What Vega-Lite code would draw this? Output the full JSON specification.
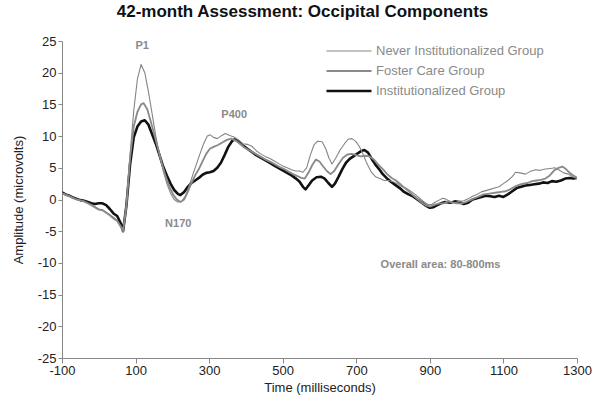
{
  "$schema": "https://vega.github.io/schema/vega-lite/v6.json",
  "width": 515,
  "height": 317,
  "autosize": {"type": "none"},
  "padding": {"left": 62, "top": 41, "right": 23, "bottom": 53},
  "background": "white",
  "title": {"text": "42-month Assessment: Occipital Components", "font": "Liberation Sans", "fontSize": 17, "fontWeight": "bold", "color": "#111", "anchor": "middle", "dx": -17, "offset": 14},
  "config": {"view": {"stroke": null}, "font": "Liberation Sans"},
  "datasets": {
    "curves": [
      {"g":"I","t":-100,"v":1.1},{"g":"I","t":-90,"v":0.8},{"g":"I","t":-80,"v":0.6},{"g":"I","t":-70,"v":0.3},{"g":"I","t":-60,"v":0.1},{"g":"I","t":-50,"v":-0.1},{"g":"I","t":-40,"v":-0.2},{"g":"I","t":-30,"v":-0.4},{"g":"I","t":-20,"v":-0.6},{"g":"I","t":-10,"v":-0.7},{"g":"I","t":0,"v":-0.6},{"g":"I","t":10,"v":-0.6},{"g":"I","t":20,"v":-0.9},{"g":"I","t":30,"v":-1.5},{"g":"I","t":40,"v":-2.2},{"g":"I","t":50,"v":-2.6},{"g":"I","t":60,"v":-3.8},{"g":"I","t":66,"v":-5.0},{"g":"I","t":75,"v":-1.0},{"g":"I","t":85,"v":5.5},{"g":"I","t":95,"v":9.8},{"g":"I","t":105,"v":11.5},{"g":"I","t":115,"v":12.3},{"g":"I","t":125,"v":12.5},{"g":"I","t":135,"v":11.8},{"g":"I","t":145,"v":10.3},{"g":"I","t":155,"v":8.8},{"g":"I","t":165,"v":7.0},{"g":"I","t":175,"v":5.2},{"g":"I","t":185,"v":3.8},{"g":"I","t":195,"v":2.5},{"g":"I","t":205,"v":1.5},{"g":"I","t":215,"v":0.9},{"g":"I","t":222,"v":0.7},{"g":"I","t":232,"v":1.2},{"g":"I","t":242,"v":2.0},{"g":"I","t":252,"v":2.6},{"g":"I","t":262,"v":3.0},{"g":"I","t":272,"v":3.4},{"g":"I","t":282,"v":3.9},{"g":"I","t":292,"v":4.2},{"g":"I","t":302,"v":4.3},{"g":"I","t":312,"v":4.5},{"g":"I","t":322,"v":5.0},{"g":"I","t":332,"v":5.8},{"g":"I","t":342,"v":7.0},{"g":"I","t":352,"v":8.3},{"g":"I","t":362,"v":9.2},{"g":"I","t":370,"v":9.5},{"g":"I","t":380,"v":9.1},{"g":"I","t":392,"v":8.5},{"g":"I","t":404,"v":8.0},{"g":"I","t":416,"v":7.5},{"g":"I","t":428,"v":7.0},{"g":"I","t":440,"v":6.6},{"g":"I","t":452,"v":6.2},{"g":"I","t":464,"v":5.8},{"g":"I","t":476,"v":5.4},{"g":"I","t":488,"v":5.0},{"g":"I","t":500,"v":4.6},{"g":"I","t":512,"v":4.2},{"g":"I","t":524,"v":3.8},{"g":"I","t":536,"v":3.3},{"g":"I","t":546,"v":2.8},{"g":"I","t":555,"v":2.0},{"g":"I","t":562,"v":1.6},{"g":"I","t":570,"v":2.2},{"g":"I","t":580,"v":3.0},{"g":"I","t":592,"v":3.5},{"g":"I","t":604,"v":3.6},{"g":"I","t":614,"v":3.3},{"g":"I","t":624,"v":2.6},{"g":"I","t":634,"v":2.0},{"g":"I","t":642,"v":2.5},{"g":"I","t":652,"v":3.6},{"g":"I","t":662,"v":4.8},{"g":"I","t":672,"v":5.8},{"g":"I","t":682,"v":6.4},{"g":"I","t":692,"v":6.8},{"g":"I","t":702,"v":7.2},{"g":"I","t":712,"v":7.6},{"g":"I","t":722,"v":7.8},{"g":"I","t":732,"v":7.4},{"g":"I","t":742,"v":6.4},{"g":"I","t":752,"v":5.5},{"g":"I","t":762,"v":4.8},{"g":"I","t":772,"v":4.0},{"g":"I","t":782,"v":3.4},{"g":"I","t":794,"v":2.8},{"g":"I","t":806,"v":2.3},{"g":"I","t":818,"v":1.8},{"g":"I","t":830,"v":1.2},{"g":"I","t":842,"v":0.8},{"g":"I","t":854,"v":0.5},{"g":"I","t":866,"v":0.0},{"g":"I","t":878,"v":-0.5},{"g":"I","t":890,"v":-1.0},{"g":"I","t":900,"v":-1.3},{"g":"I","t":910,"v":-1.2},{"g":"I","t":920,"v":-0.9},{"g":"I","t":930,"v":-0.6},{"g":"I","t":942,"v":-0.4},{"g":"I","t":955,"v":-0.5},{"g":"I","t":968,"v":-0.3},{"g":"I","t":980,"v":-0.4},{"g":"I","t":992,"v":-0.7},{"g":"I","t":1004,"v":-0.5},{"g":"I","t":1016,"v":0.0},{"g":"I","t":1028,"v":0.2},{"g":"I","t":1040,"v":0.4},{"g":"I","t":1052,"v":0.6},{"g":"I","t":1064,"v":0.5},{"g":"I","t":1076,"v":0.4},{"g":"I","t":1088,"v":0.6},{"g":"I","t":1100,"v":0.4},{"g":"I","t":1112,"v":0.8},{"g":"I","t":1124,"v":1.3},{"g":"I","t":1136,"v":1.8},{"g":"I","t":1148,"v":2.0},{"g":"I","t":1160,"v":2.2},{"g":"I","t":1172,"v":2.3},{"g":"I","t":1184,"v":2.4},{"g":"I","t":1196,"v":2.5},{"g":"I","t":1208,"v":2.7},{"g":"I","t":1220,"v":2.6},{"g":"I","t":1232,"v":2.9},{"g":"I","t":1244,"v":2.8},{"g":"I","t":1256,"v":3.0},{"g":"I","t":1268,"v":3.3},{"g":"I","t":1280,"v":3.4},{"g":"I","t":1290,"v":3.3},{"g":"I","t":1300,"v":3.4},

      {"g":"N","t":-100,"v":1.0},{"g":"N","t":-80,"v":0.6},{"g":"N","t":-60,"v":0.0},{"g":"N","t":-40,"v":-0.3},{"g":"N","t":-20,"v":-0.8},{"g":"N","t":0,"v":-1.5},{"g":"N","t":10,"v":-1.6},{"g":"N","t":20,"v":-2.0},{"g":"N","t":30,"v":-2.4},{"g":"N","t":40,"v":-2.8},{"g":"N","t":50,"v":-3.3},{"g":"N","t":60,"v":-4.2},{"g":"N","t":66,"v":-4.8},{"g":"N","t":75,"v":-1.0},{"g":"N","t":85,"v":7.0},{"g":"N","t":95,"v":14.0},{"g":"N","t":105,"v":19.0},{"g":"N","t":115,"v":21.3},{"g":"N","t":125,"v":20.0},{"g":"N","t":135,"v":17.0},{"g":"N","t":145,"v":13.5},{"g":"N","t":155,"v":10.0},{"g":"N","t":165,"v":7.0},{"g":"N","t":175,"v":4.5},{"g":"N","t":185,"v":2.5},{"g":"N","t":195,"v":1.0},{"g":"N","t":205,"v":0.0},{"g":"N","t":215,"v":-0.4},{"g":"N","t":225,"v":-0.3},{"g":"N","t":235,"v":0.5},{"g":"N","t":245,"v":2.0},{"g":"N","t":255,"v":3.8},{"g":"N","t":265,"v":5.5},{"g":"N","t":275,"v":7.2},{"g":"N","t":285,"v":8.8},{"g":"N","t":295,"v":10.0},{"g":"N","t":303,"v":10.2},{"g":"N","t":312,"v":9.8},{"g":"N","t":322,"v":9.6},{"g":"N","t":332,"v":10.0},{"g":"N","t":344,"v":10.4},{"g":"N","t":356,"v":10.1},{"g":"N","t":366,"v":9.9},{"g":"N","t":380,"v":9.4},{"g":"N","t":392,"v":8.8},{"g":"N","t":404,"v":8.7},{"g":"N","t":416,"v":8.4},{"g":"N","t":428,"v":7.7},{"g":"N","t":440,"v":7.2},{"g":"N","t":452,"v":6.8},{"g":"N","t":464,"v":6.5},{"g":"N","t":476,"v":6.1},{"g":"N","t":488,"v":5.7},{"g":"N","t":500,"v":5.3},{"g":"N","t":512,"v":5.0},{"g":"N","t":524,"v":4.7},{"g":"N","t":534,"v":4.5},{"g":"N","t":545,"v":4.5},{"g":"N","t":555,"v":4.3},{"g":"N","t":565,"v":5.0},{"g":"N","t":575,"v":7.0},{"g":"N","t":585,"v":8.6},{"g":"N","t":595,"v":9.2},{"g":"N","t":607,"v":9.1},{"g":"N","t":617,"v":8.0},{"g":"N","t":626,"v":6.5},{"g":"N","t":634,"v":5.6},{"g":"N","t":644,"v":6.5},{"g":"N","t":656,"v":7.8},{"g":"N","t":668,"v":8.8},{"g":"N","t":678,"v":9.5},{"g":"N","t":688,"v":9.6},{"g":"N","t":698,"v":9.2},{"g":"N","t":708,"v":8.4},{"g":"N","t":718,"v":7.2},{"g":"N","t":728,"v":5.8},{"g":"N","t":740,"v":4.4},{"g":"N","t":752,"v":3.6},{"g":"N","t":764,"v":3.3},{"g":"N","t":776,"v":3.0},{"g":"N","t":788,"v":3.0},{"g":"N","t":800,"v":2.8},{"g":"N","t":812,"v":2.5},{"g":"N","t":824,"v":2.0},{"g":"N","t":836,"v":1.8},{"g":"N","t":848,"v":1.3},{"g":"N","t":860,"v":0.8},{"g":"N","t":872,"v":0.2},{"g":"N","t":884,"v":-0.4},{"g":"N","t":895,"v":-0.8},{"g":"N","t":905,"v":-0.8},{"g":"N","t":915,"v":-0.4},{"g":"N","t":925,"v":-0.1},{"g":"N","t":935,"v":0.2},{"g":"N","t":942,"v":0.1},{"g":"N","t":955,"v":-0.3},{"g":"N","t":968,"v":-0.5},{"g":"N","t":980,"v":-0.3},{"g":"N","t":992,"v":-0.2},{"g":"N","t":1004,"v":0.1},{"g":"N","t":1016,"v":0.5},{"g":"N","t":1028,"v":0.8},{"g":"N","t":1040,"v":1.2},{"g":"N","t":1052,"v":1.4},{"g":"N","t":1064,"v":1.6},{"g":"N","t":1076,"v":1.8},{"g":"N","t":1088,"v":2.0},{"g":"N","t":1100,"v":2.5},{"g":"N","t":1112,"v":3.0},{"g":"N","t":1124,"v":3.6},{"g":"N","t":1133,"v":4.3},{"g":"N","t":1145,"v":4.2},{"g":"N","t":1160,"v":4.0},{"g":"N","t":1172,"v":4.4},{"g":"N","t":1187,"v":4.7},{"g":"N","t":1200,"v":4.6},{"g":"N","t":1214,"v":4.8},{"g":"N","t":1228,"v":4.9},{"g":"N","t":1240,"v":5.0},{"g":"N","t":1252,"v":4.6},{"g":"N","t":1264,"v":4.2},{"g":"N","t":1276,"v":4.0},{"g":"N","t":1288,"v":3.6},{"g":"N","t":1300,"v":3.3},

      {"g":"F","t":-100,"v":1.0},{"g":"F","t":-80,"v":0.5},{"g":"F","t":-60,"v":0.0},{"g":"F","t":-40,"v":-0.3},{"g":"F","t":-20,"v":-0.9},{"g":"F","t":0,"v":-1.6},{"g":"F","t":10,"v":-1.7},{"g":"F","t":20,"v":-2.1},{"g":"F","t":30,"v":-2.5},{"g":"F","t":40,"v":-3.0},{"g":"F","t":50,"v":-3.4},{"g":"F","t":60,"v":-4.3},{"g":"F","t":66,"v":-5.0},{"g":"F","t":75,"v":-1.0},{"g":"F","t":85,"v":6.5},{"g":"F","t":95,"v":11.5},{"g":"F","t":105,"v":13.8},{"g":"F","t":115,"v":15.0},{"g":"F","t":122,"v":15.2},{"g":"F","t":132,"v":14.2},{"g":"F","t":142,"v":12.2},{"g":"F","t":152,"v":10.0},{"g":"F","t":162,"v":7.8},{"g":"F","t":172,"v":5.6},{"g":"F","t":182,"v":3.6},{"g":"F","t":192,"v":2.0},{"g":"F","t":202,"v":0.8},{"g":"F","t":212,"v":0.0},{"g":"F","t":222,"v":-0.4},{"g":"F","t":232,"v":0.0},{"g":"F","t":242,"v":1.2},{"g":"F","t":252,"v":2.6},{"g":"F","t":262,"v":3.8},{"g":"F","t":272,"v":4.8},{"g":"F","t":282,"v":6.0},{"g":"F","t":292,"v":7.2},{"g":"F","t":302,"v":8.0},{"g":"F","t":312,"v":8.3},{"g":"F","t":324,"v":8.6},{"g":"F","t":336,"v":9.0},{"g":"F","t":348,"v":9.4},{"g":"F","t":360,"v":9.6},{"g":"F","t":372,"v":9.3},{"g":"F","t":384,"v":8.8},{"g":"F","t":396,"v":8.2},{"g":"F","t":408,"v":7.8},{"g":"F","t":420,"v":7.4},{"g":"F","t":432,"v":7.0},{"g":"F","t":444,"v":6.6},{"g":"F","t":456,"v":6.2},{"g":"F","t":468,"v":5.9},{"g":"F","t":480,"v":5.5},{"g":"F","t":492,"v":5.1},{"g":"F","t":504,"v":4.8},{"g":"F","t":516,"v":4.4},{"g":"F","t":528,"v":4.0},{"g":"F","t":540,"v":3.7},{"g":"F","t":550,"v":3.4},{"g":"F","t":560,"v":3.3},{"g":"F","t":570,"v":4.2},{"g":"F","t":580,"v":5.4},{"g":"F","t":590,"v":6.3},{"g":"F","t":600,"v":6.0},{"g":"F","t":610,"v":5.2},{"g":"F","t":620,"v":4.5},{"g":"F","t":630,"v":4.0},{"g":"F","t":640,"v":4.5},{"g":"F","t":652,"v":5.6},{"g":"F","t":664,"v":6.6},{"g":"F","t":676,"v":7.1},{"g":"F","t":688,"v":7.2},{"g":"F","t":700,"v":7.0},{"g":"F","t":712,"v":6.8},{"g":"F","t":724,"v":6.9},{"g":"F","t":736,"v":6.8},{"g":"F","t":748,"v":6.3},{"g":"F","t":760,"v":5.5},{"g":"F","t":772,"v":4.8},{"g":"F","t":784,"v":4.0},{"g":"F","t":796,"v":3.4},{"g":"F","t":808,"v":3.0},{"g":"F","t":820,"v":2.4},{"g":"F","t":832,"v":1.8},{"g":"F","t":844,"v":1.2},{"g":"F","t":856,"v":0.6},{"g":"F","t":868,"v":0.0},{"g":"F","t":880,"v":-0.6},{"g":"F","t":892,"v":-1.0},{"g":"F","t":902,"v":-1.1},{"g":"F","t":914,"v":-0.8},{"g":"F","t":926,"v":-0.6},{"g":"F","t":938,"v":-0.6},{"g":"F","t":950,"v":-0.3},{"g":"F","t":962,"v":-0.5},{"g":"F","t":974,"v":-0.6},{"g":"F","t":986,"v":-0.6},{"g":"F","t":998,"v":-0.4},{"g":"F","t":1010,"v":-0.1},{"g":"F","t":1022,"v":0.2},{"g":"F","t":1034,"v":0.5},{"g":"F","t":1046,"v":0.8},{"g":"F","t":1058,"v":0.9},{"g":"F","t":1070,"v":1.0},{"g":"F","t":1082,"v":1.1},{"g":"F","t":1094,"v":1.2},{"g":"F","t":1106,"v":1.3},{"g":"F","t":1118,"v":1.6},{"g":"F","t":1130,"v":2.0},{"g":"F","t":1142,"v":2.3},{"g":"F","t":1154,"v":2.5},{"g":"F","t":1166,"v":2.6},{"g":"F","t":1178,"v":2.9},{"g":"F","t":1190,"v":3.0},{"g":"F","t":1202,"v":3.1},{"g":"F","t":1214,"v":3.3},{"g":"F","t":1226,"v":3.8},{"g":"F","t":1238,"v":4.6},{"g":"F","t":1250,"v":5.0},{"g":"F","t":1260,"v":5.2},{"g":"F","t":1270,"v":4.8},{"g":"F","t":1280,"v":4.2},{"g":"F","t":1290,"v":3.8},{"g":"F","t":1300,"v":3.4}
    ],
    "notes": [
      {"label":"P1","t":118,"v":24.2},
      {"label":"P400","t":368,"v":13.4},
      {"label":"N170","t":216,"v":-3.9},
      {"label":"Overall area: 80-800ms","t":929,"v":-10.4}
    ]
  },
  "encoding": {
    "x": {"field": "t", "type": "quantitative", "scale": {"domain": [-100, 1300], "nice": false, "zero": false},
      "axis": {"values": [-100, 100, 300, 500, 700, 900, 1100, 1300], "labelExpr": "'' + datum.value", "labelOverlap": false, "title": "Time (milliseconds)", "grid": false, "domainColor": "#888", "tickColor": "#888", "tickSize": 5, "labelFont": "Liberation Sans", "labelFontSize": 13, "labelColor": "#222", "labelPadding": 1, "titleFont": "Liberation Sans", "titleFontSize": 13, "titleFontWeight": "normal", "titleColor": "#222", "titlePadding": 4, "labelFlush": false}},
    "y": {"field": "v", "type": "quantitative", "scale": {"domain": [-25, 25], "nice": false, "zero": false},
      "axis": {"values": [-25, -20, -15, -10, -5, 0, 5, 10, 15, 20, 25], "labelExpr": "'' + datum.value", "labelOverlap": false, "title": "Amplitude (microvolts)", "grid": false, "domainColor": "#888", "tickColor": "#888", "tickSize": 4, "labelFont": "Liberation Sans", "labelFontSize": 13, "labelColor": "#222", "labelPadding": 2, "titleFont": "Liberation Sans", "titleFontSize": 13, "titleFontWeight": "normal", "titleColor": "#222", "titlePadding": 12, "labelFlush": false}}
  },
  "layer": [
    {
      "data": {"name": "curves"},
      "mark": {"type": "line", "clip": true, "strokeJoin": "round"},
      "encoding": {
        "detail": {"field": "g"},
        "color": {"field": "g", "type": "nominal", "scale": {"domain": ["N", "F", "I"], "range": ["#858585", "#8a8a8a", "#111111"]},
          "legend": {"title": null, "orient": "none", "legendX": 263, "legendY": 0, "symbolType": "stroke", "symbolSize": 2025, "clipHeight": 20, "rowPadding": 0, "labelLimit": 300, "labelFont": "Liberation Sans", "labelFontSize": 13, "labelColor": "#8a8a8a", "labelOffset": 3,
            "labelExpr": "datum.value == 'N' ? 'Never Institutionalized Group' : datum.value == 'F' ? 'Foster Care Group' : 'Institutionalized Group'"}},
        "strokeWidth": {"field": "g", "type": "nominal", "scale": {"domain": ["N", "F", "I"], "range": [1.1, 2.6, 2.9]},
          "legend": {"title": null, "orient": "none", "legendX": 263, "legendY": 0, "symbolType": "stroke", "symbolSize": 2025, "clipHeight": 20, "rowPadding": 0, "labelLimit": 300, "labelFont": "Liberation Sans", "labelFontSize": 13, "labelColor": "#8a8a8a", "labelOffset": 3,
            "labelExpr": "datum.value == 'N' ? 'Never Institutionalized Group' : datum.value == 'F' ? 'Foster Care Group' : 'Institutionalized Group'"}}
      }
    },
    {
      "data": {"name": "notes"},
      "mark": {"type": "text", "font": "Liberation Sans", "fontWeight": "bold", "fontSize": 11, "color": "#8a8a8a", "align": "center", "baseline": "middle"},
      "encoding": {
        "text": {"field": "label"}
      }
    }
  ]
}
